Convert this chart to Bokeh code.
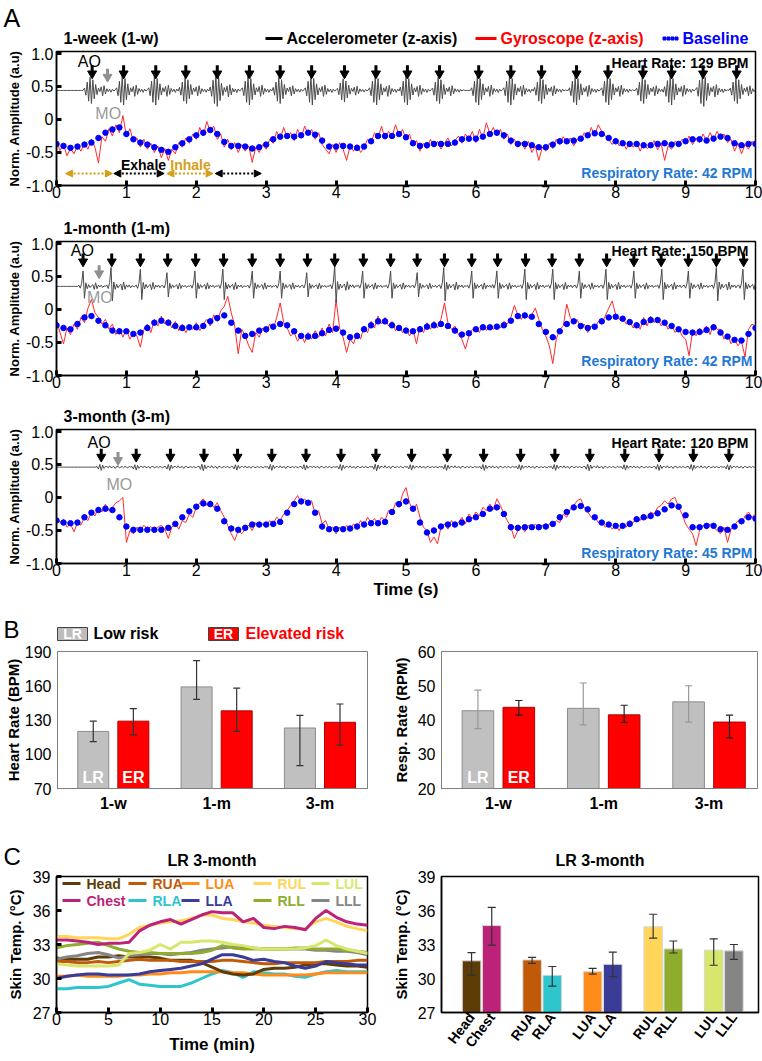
import numpy as np
from bokeh.plotting import figure
from bokeh.layouts import column, row
from bokeh.models import Label, FixedTicker, CustomJSTickFormatter, Arrow, NormalHead
from bokeh.embed import file_html
from bokeh.resources import INLINE

FONT = "Liberation Sans"

# ======================= Panel A data =======================
gyro_dt = 0.05   # s between gyroscope samples
base_dt = 0.1    # s between baseline points
acc_dt = 0.02    # s between accelerometer samples

gyro_1w = [
    -0.32, -0.47, -0.38, -0.55, -0.44, -0.52, -0.40, -0.48, -0.36, -0.45,
    -0.30, -0.42, -0.66, -0.26, -0.33, -0.14, -0.25, -0.08, -0.20, 0.06,
    -0.25, -0.14, -0.33, -0.28, -0.42, -0.30, -0.45, -0.36, -0.50, -0.40,
    -0.58, -0.44, -0.62, -0.45, -0.52, -0.35, -0.42, -0.28, -0.36, -0.22,
    -0.30, -0.12, -0.25, -0.03, -0.18, -0.10, -0.30, -0.22, -0.42, -0.30,
    -0.46, -0.35, -0.50, -0.38, -0.48, -0.40, -0.65, -0.42, -0.50, -0.38,
    -0.45, -0.30, -0.36, -0.18, -0.30, -0.12, -0.28, -0.20, -0.32, -0.15,
    -0.28, -0.10, -0.22, -0.15, -0.30, -0.20, -0.38, -0.45, -0.52, -0.38,
    -0.50, -0.35, -0.45, -0.62, -0.40, -0.48, -0.38, -0.50, -0.42, -0.30,
    -0.35, -0.20, -0.28, -0.10, -0.30, -0.18, -0.26, -0.08, -0.24, -0.15,
    -0.30, -0.22, -0.40, -0.32, -0.48, -0.36, -0.44, -0.30, -0.42, -0.33,
    -0.45, -0.36, -0.28, -0.40, -0.32, -0.25, -0.36, -0.22, -0.30, -0.18,
    -0.35, -0.15, -0.28, -0.05, -0.22, -0.12, -0.25, -0.15, -0.30, -0.22,
    -0.38, -0.30, -0.42, -0.35, -0.45, -0.33, -0.50, -0.40, -0.62, -0.42,
    -0.48, -0.36, -0.44, -0.30, -0.38, -0.26, -0.35, -0.28, -0.40, -0.30,
    -0.32, -0.20, -0.28, -0.12, -0.25, -0.08, -0.18, -0.25, -0.30, -0.38,
    -0.28, -0.40, -0.32, -0.45, -0.35, -0.42, -0.34, -0.48, -0.36, -0.44,
    -0.40, -0.32, -0.46, -0.36, -0.62, -0.40, -0.45, -0.33, -0.38, -0.30,
    -0.36, -0.25, -0.38, -0.28, -0.35, -0.22, -0.32, -0.20, -0.30, -0.18,
    -0.28, -0.22, -0.35, -0.30, -0.48, -0.36, -0.52, -0.38, -0.45, -0.33,
    -0.40]
base_1w = [
    -0.37, -0.40, -0.43, -0.41, -0.38, -0.35, -0.28, -0.20, -0.15, -0.12,
    -0.22, -0.30, -0.35, -0.38, -0.42, -0.46, -0.49, -0.42, -0.36, -0.30,
    -0.24, -0.20, -0.16, -0.22, -0.34, -0.40, -0.40, -0.41, -0.44, -0.42,
    -0.38, -0.30, -0.26, -0.25, -0.26, -0.24, -0.20, -0.23, -0.32, -0.41,
    -0.41, -0.40, -0.41, -0.43, -0.41, -0.33, -0.25, -0.25, -0.25, -0.22,
    -0.27, -0.36, -0.40, -0.39, -0.37, -0.37, -0.37, -0.35, -0.30, -0.29,
    -0.29, -0.26, -0.22, -0.20, -0.24, -0.32, -0.37, -0.37, -0.39, -0.42,
    -0.42, -0.38, -0.33, -0.33, -0.32, -0.29, -0.24, -0.21, -0.22, -0.28,
    -0.33, -0.36, -0.37, -0.37, -0.39, -0.39, -0.37, -0.36, -0.38, -0.37,
    -0.33, -0.30, -0.30, -0.32, -0.29, -0.26, -0.28, -0.36, -0.39, -0.37,
    -0.37]
beats_1w = [0.51, 0.96, 1.42, 1.85, 2.30, 2.76, 3.20, 3.65, 4.12, 4.57, 5.02,
            5.48, 6.04, 6.50, 6.94, 7.44, 7.89, 8.39, 8.80, 9.25, 9.73]
beat_amp_1w = [0.9, 1.0, 1.0, 0.9, 1.1, 1.0, 0.9, 1.0, 0.8, 1.0, 1.0,
               0.9, 1.0, 1.0, 0.9, 1.0, 1.0, 0.9, 1.0, 1.1, 0.9]
beat_wave_1w = [0.04, -0.08, 0.14, -0.18, 0.22, -0.22, 0.18, -0.14, 0.10, -0.07, 0.04, -0.02,
                0.06, -0.09, 0.08, -0.06, 0.03, -0.02, 0.02, -0.03, 0.02, -0.01, 0.01]
wave_lead_1w = 0.10
acc_level_1w = 0.44
mo_1w = 0.73
hr_1w, rr_1w = 129, 42
breath_start_1w = [0.13, 0.82, 1.58, 2.27]
breath_end_1w = [0.80, 1.54, 2.24, 2.93]
breath_phase_1w = ["Inhale", "Exhale", "Inhale", "Exhale"]

gyro_1m = [
    -0.15, -0.35, -0.52, -0.28, -0.38, -0.22, -0.30, -0.12, -0.20, 0.02,
    0.15, -0.05, -0.12, -0.22, -0.15, -0.30, -0.22, -0.38, -0.28, -0.42,
    -0.30, -0.45, -0.35, -0.40, -0.57, -0.30, -0.22, -0.35, -0.15, -0.25,
    -0.10, -0.22, -0.15, -0.28, -0.18, -0.32, -0.22, -0.35, -0.25, -0.30,
    -0.20, -0.32, -0.22, -0.15, -0.25, -0.08, -0.18, -0.02, 0.05, 0.20,
    -0.05, -0.25, -0.67, -0.30, -0.40, -0.55, -0.65, -0.35, -0.42, -0.28,
    -0.35, -0.22, -0.30, -0.12, 0.10, -0.20, -0.28, -0.40, -0.35, -0.48,
    -0.38, -0.50, -0.35, -0.45, -0.32, -0.42, -0.28, -0.40, -0.22, -0.35,
    0.15, -0.28, -0.42, -0.65, -0.45, -0.52, -0.35, -0.45, -0.25, -0.35,
    -0.18, -0.28, -0.10, -0.22, -0.12, -0.25, -0.18, -0.32, -0.25, -0.35,
    -0.28, -0.40, -0.30, -0.52, -0.25, -0.35, -0.20, -0.30, -0.18, -0.28,
    -0.15, 0.10, -0.20, -0.30, -0.25, -0.38, -0.45, -0.60, -0.40, -0.30,
    -0.28, -0.35, -0.22, -0.32, -0.25, -0.30, -0.22, -0.28, -0.18, -0.22,
    -0.12, 0.06, -0.08, -0.15, -0.05, -0.12, -0.08, 0.02, -0.15, -0.30,
    -0.40, -0.55, -0.82, -0.45, -0.30, -0.25, 0.08, -0.12, -0.20, -0.15,
    -0.30, -0.22, -0.35, -0.25, -0.30, -0.18, -0.22, -0.10, 0.02, 0.13,
    -0.08, -0.15, -0.12, -0.22, -0.18, -0.28, -0.20, -0.30, -0.12, -0.25,
    -0.10, -0.20, -0.12, -0.25, -0.18, -0.30, -0.22, -0.35, -0.28, -0.40,
    -0.45, -0.70, -0.32, -0.40, -0.28, -0.35, -0.25, -0.38, -0.22, -0.30,
    -0.30, -0.45, -0.38, -0.52, -0.45, -0.55, -0.48, -0.72, -0.30, -0.22,
    -0.25]
base_1m = [
    -0.24, -0.28, -0.30, -0.22, -0.12, -0.10, -0.17, -0.24, -0.32, -0.33,
    -0.33, -0.37, -0.35, -0.28, -0.20, -0.17, -0.20, -0.25, -0.28, -0.27,
    -0.27, -0.25, -0.18, -0.13, -0.09, -0.20, -0.32, -0.40, -0.37, -0.32,
    -0.30, -0.26, -0.22, -0.24, -0.33, -0.40, -0.41, -0.40, -0.36, -0.31,
    -0.29, -0.35, -0.42, -0.40, -0.30, -0.24, -0.18, -0.18, -0.24, -0.28,
    -0.32, -0.33, -0.30, -0.26, -0.24, -0.22, -0.25, -0.32, -0.38, -0.36,
    -0.30, -0.27, -0.27, -0.26, -0.24, -0.17, -0.10, -0.09, -0.11, -0.22,
    -0.34, -0.42, -0.33, -0.22, -0.18, -0.25, -0.28, -0.26, -0.18, -0.12,
    -0.11, -0.14, -0.19, -0.24, -0.19, -0.16, -0.16, -0.20, -0.25, -0.30,
    -0.34, -0.35, -0.34, -0.31, -0.27, -0.35, -0.41, -0.46, -0.47, -0.37,
    -0.28]
beats_1m = [0.38, 0.79, 1.20, 1.59, 1.99, 2.39, 2.80, 3.20, 3.59, 3.98, 4.39, 4.78, 5.16,
            5.55, 5.94, 6.31, 6.71, 7.09, 7.48, 7.87, 8.26, 8.65, 9.04, 9.44, 9.83]
beat_amp_1m = [0.9, 1.1, 1.0, 0.8, 0.9, 1.0, 0.9, 0.9, 0.8, 1.2, 0.9, 0.9, 0.8,
               1.1, 0.9, 0.9, 1.0, 1.0, 0.9, 1.0, 0.9, 1.0, 0.9, 1.1, 1.0]
beat_wave_1m = [0.02, -0.03, 0.05, 0.26, -0.20, 0.06, -0.04, 0.03, -0.02, 0.01,
                0.03, -0.05, 0.06, -0.04, 0.02, -0.01, 0.02, -0.02, 0.01, 0.00]
wave_lead_1m = 0.06
acc_level_1m = 0.35
mo_1m = 0.61
hr_1m, rr_1m = 150, 42

gyro_3m = [
    -0.30, -0.38, -0.33, -0.45, -0.40, -0.52, -0.38, -0.42, -0.30, -0.35,
    -0.22, -0.28, -0.15, -0.22, -0.10, -0.20, -0.15, -0.08, -0.05, 0.00,
    -0.68, -0.50, -0.55, -0.45, -0.50, -0.42, -0.48, -0.44, -0.50, -0.45,
    -0.42, -0.48, -0.62, -0.45, -0.40, -0.48, -0.35, -0.38, -0.25, -0.30,
    -0.15, -0.08, -0.02, -0.12, -0.05, -0.15, -0.08, -0.20, -0.30, -0.42,
    -0.55, -0.65, -0.50, -0.55, -0.48, -0.42, -0.50, -0.38, -0.45, -0.40,
    -0.42, -0.35, -0.40, -0.30, -0.35, -0.25, -0.20, -0.12, -0.05, 0.03,
    -0.08, -0.02, -0.10, -0.05, -0.25, -0.20, -0.40, -0.35, -0.48, -0.45,
    -0.55, -0.45, -0.52, -0.42, -0.48, -0.40, -0.45, -0.35, -0.42, -0.30,
    -0.38, -0.32, -0.40, -0.30, -0.35, -0.20, -0.25, -0.08, -0.15, 0.05,
    0.15, -0.08, -0.20, -0.10, -0.30, -0.45, -0.50, -0.68, -0.60, -0.70,
    -0.45, -0.40, -0.48, -0.35, -0.42, -0.38, -0.30, -0.40, -0.25, -0.32,
    -0.22, -0.28, -0.15, -0.20, -0.10, -0.18, -0.02, -0.12, -0.25, -0.35,
    -0.45, -0.62, -0.50, -0.45, -0.52, -0.42, -0.48, -0.40, -0.45, -0.42,
    -0.48, -0.40, -0.42, -0.35, -0.38, -0.25, -0.30, -0.18, -0.12, -0.05,
    -0.02, -0.15, -0.22, -0.30, -0.28, -0.38, -0.35, -0.45, -0.40, -0.48,
    -0.42, -0.50, -0.40, -0.45, -0.35, -0.38, -0.30, -0.35, -0.25, -0.32,
    -0.22, -0.25, -0.15, -0.12, -0.05, -0.10, -0.02, 0.00, -0.15, -0.25,
    -0.40, -0.48, -0.55, -0.73, -0.50, -0.42, -0.48, -0.40, -0.45, -0.50,
    -0.55, -0.45, -0.68, -0.48, -0.42, -0.35, -0.40, -0.28, -0.22, -0.30,
    -0.25]
base_3m = [
    -0.35, -0.38, -0.39, -0.38, -0.30, -0.23, -0.19, -0.17, -0.19, -0.30,
    -0.44, -0.49, -0.49, -0.49, -0.49, -0.49, -0.46, -0.40, -0.30, -0.21,
    -0.14, -0.09, -0.10, -0.17, -0.36, -0.47, -0.49, -0.46, -0.41, -0.41,
    -0.41, -0.40, -0.37, -0.23, -0.10, -0.06, -0.08, -0.23, -0.44, -0.48,
    -0.48, -0.48, -0.47, -0.44, -0.41, -0.39, -0.39, -0.37, -0.22, -0.10,
    -0.06, -0.17, -0.38, -0.53, -0.50, -0.44, -0.41, -0.41, -0.38, -0.33,
    -0.30, -0.25, -0.17, -0.15, -0.25, -0.45, -0.46, -0.45, -0.45, -0.45,
    -0.44, -0.40, -0.30, -0.22, -0.15, -0.13, -0.18, -0.30, -0.38, -0.41,
    -0.43, -0.43, -0.40, -0.33, -0.30, -0.28, -0.24, -0.18, -0.12, -0.14,
    -0.27, -0.45, -0.45, -0.43, -0.43, -0.48, -0.49, -0.44, -0.36, -0.30,
    -0.32]
beats_3m = [0.64, 1.14, 1.63, 2.11, 2.59, 3.08, 3.57, 4.07, 4.57, 5.08,
            5.59, 6.11, 6.64, 7.13, 7.63, 8.13, 8.62, 9.11, 9.62]
beat_amp_3m = [1.0, 0.9, 1.0, 1.1, 0.9, 1.0, 0.9, 1.0, 1.1, 0.9,
               1.0, 1.0, 0.9, 1.0, 1.1, 0.9, 1.0, 1.0, 0.9]
beat_wave_3m = [0.01, -0.03, 0.04, -0.05, 0.03, -0.02, 0.01, 0.01, -0.01, 0.02, -0.01, 0.00, 0.01,
                -0.02, 0.01, 0.01, -0.01, 0.00, 0.01, -0.01, 0.01, 0.00, -0.01, 0.01, 0.00]
wave_lead_3m = 0.06
acc_level_3m = 0.46
mo_3m = 0.88
hr_3m, rr_3m = 120, 45

# ======================= Panel B data =======================
groups = ["1-w", "1-m", "3-m"]
hr_lr = [120, 159, 123]
hr_lr_lo = [111, 148, 90]
hr_lr_hi = [129, 182, 134]
hr_er = [129, 138, 128]
hr_er_lo = [117, 120, 108]
hr_er_hi = [140, 158, 144]
rr_lr = [42.7, 43.4, 45.3]
rr_lr_lo = [37.5, 38.6, 39.4]
rr_lr_hi = [48.7, 50.8, 50.0]
rr_er = [43.7, 41.5, 39.4]
rr_er_lo = [41.4, 39.3, 34.8]
rr_er_hi = [45.7, 44.3, 41.4]

# ======================= Panel C data =======================
temp_t = list(range(31))  # minutes
temp_head = [31.8, 31.7, 31.7, 31.7, 31.9, 31.9, 32.0, 31.9, 31.9, 31.9, 31.8, 31.6, 31.6, 31.6, 31.4, 31.0,
             30.6, 30.4, 30.3, 30.4, 30.8, 30.9, 30.9, 31.0, 31.2, 31.3, 31.3, 31.2, 31.1, 31.1, 31.0]
temp_chest = [33.4, 33.4, 33.3, 33.2, 33.0, 33.1, 33.1, 33.2, 34.2, 34.7, 35.0, 35.2, 34.8, 35.2, 35.6, 35.9,
              35.8, 35.8, 35.0, 35.3, 34.5, 34.4, 34.6, 34.5, 34.3, 35.3, 36.0, 35.4, 35.0, 34.8, 34.7]
temp_rua = [31.5, 31.5, 31.4, 31.4, 31.5, 31.4, 31.5, 31.6, 31.7, 31.6, 31.6, 31.6, 31.5, 31.5, 31.5, 31.5,
            31.6, 31.6, 31.5, 31.4, 31.3, 31.3, 31.4, 31.4, 31.4, 31.4, 31.5, 31.5, 31.5, 31.6, 31.6]
temp_rla = [29.1, 29.1, 29.2, 29.2, 29.2, 29.3, 29.6, 29.9, 29.5, 29.4, 29.3, 29.3, 29.3, 29.6, 30.0, 30.4,
            30.7, 30.5, 30.1, 30.6, 30.5, 30.4, 30.4, 30.2, 30.1, 30.4, 30.6, 30.7, 30.6, 30.6, 30.6]
temp_lua = [30.2, 30.2, 30.3, 30.2, 30.2, 30.2, 30.2, 30.3, 30.3, 30.4, 30.4, 30.5, 30.5, 30.6, 30.6, 30.6,
            30.6, 30.5, 30.5, 30.4, 30.3, 30.3, 30.3, 30.3, 30.3, 30.4, 30.5, 30.5, 30.5, 30.5, 30.5]
temp_lla = [30.0, 30.2, 30.3, 30.4, 30.4, 30.3, 30.3, 30.3, 30.4, 30.6, 30.7, 30.8, 30.9, 31.1, 31.3, 31.7,
            32.1, 32.1, 31.9, 31.6, 31.7, 31.5, 31.4, 31.1, 30.9, 31.1, 31.5, 31.4, 31.3, 31.2, 31.2]
temp_rul = [33.7, 33.7, 33.6, 33.6, 33.6, 33.5, 33.5, 33.9, 34.5, 34.7, 34.9, 35.0, 35.1, 35.3, 35.6, 35.6,
            35.3, 35.2, 35.0, 34.9, 34.7, 34.6, 34.5, 34.4, 34.4, 35.0, 35.3, 35.0, 34.6, 34.4, 34.2]
temp_rll = [32.7, 32.9, 33.0, 33.1, 33.2, 32.9, 32.6, 32.4, 32.3, 32.3, 32.2, 32.2, 32.2, 32.2, 32.3, 32.5,
            32.9, 32.7, 32.6, 32.6, 32.6, 32.6, 32.6, 32.7, 32.7, 32.6, 32.6, 32.6, 32.5, 32.4, 32.3]
temp_lul = [31.3, 31.2, 31.1, 31.1, 31.1, 31.1, 31.2, 32.2, 32.3, 32.5, 33.0, 32.6, 33.2, 33.2, 33.3, 33.3,
            33.2, 33.0, 32.9, 32.7, 32.6, 32.6, 32.6, 32.6, 32.7, 32.9, 33.4, 32.9, 32.6, 32.4, 32.2]
temp_lll = [31.7, 31.9, 32.0, 32.2, 32.3, 32.1, 31.8, 32.0, 32.1, 32.2, 32.2, 32.1, 32.2, 32.3, 32.5, 32.6,
            32.7, 32.8, 32.8, 32.7, 32.6, 32.6, 32.6, 32.6, 32.6, 32.5, 32.5, 32.4, 32.4, 32.3, 32.1]

regions = ["Head", "Chest", "RUA", "RLA", "LUA", "LLA", "RUL", "RLL", "LUL", "LLL"]
region_colors = ["#5e3c06", "#bb2278", "#c05a08", "#2ec6cc", "#ff8c1a",
                 "#3b3b98", "#ffd65a", "#8fac2e", "#d9e66e", "#858585"]
temp_mean = [31.56, 34.67, 31.64, 30.28, 30.61, 31.25, 34.56, 32.61, 32.50, 32.44]
temp_lo = [30.28, 32.94, 31.33, 29.33, 30.39, 30.17, 33.56, 32.25, 31.17, 31.69]
temp_hi = [32.28, 36.28, 31.86, 31.06, 30.89, 32.33, 35.67, 33.31, 33.50, 33.00]

# ======================= helpers =======================
GOLD = "#d4a017"
RR_BLUE = "#1f78d1"
PAGE_W = 762


class Geo:
    """maps page pixel positions to data coordinates of one figure"""
    def __init__(self, fl, fr, ft, fb, x0, x1, y0, y1):
        self.fl, self.fr, self.ft, self.fb = fl, fr, ft, fb
        self.x0, self.x1, self.y0, self.y1 = x0, x1, y0, y1

    def X(self, px):
        return self.x0 + (px - self.fl) * (self.x1 - self.x0) / (self.fr - self.fl)

    def Y(self, py):
        return self.y1 - (py - self.ft) * (self.y1 - self.y0) / (self.fb - self.ft)


def make_fig(fx, fy, W, H, bl, br, bt, bb, xr, yr, frame_color="black", frame_w=1.5):
    p = figure(width=W, height=H, x_range=xr, y_range=yr, output_backend="svg",
               toolbar_location=None, min_border_left=bl, min_border_right=br,
               min_border_top=bt, min_border_bottom=bb, frame_align=False)
    p.grid.visible = False
    p.outline_line_color = frame_color
    p.outline_line_width = frame_w
    p.background_fill_color = "white"
    p.border_fill_color = "white"
    for ax in (p.xaxis, p.yaxis):
        ax.axis_line_color = frame_color
        ax.axis_line_width = frame_w
        ax.minor_tick_line_color = None
        ax.major_tick_in = 5
        ax.major_tick_out = 0
        ax.major_tick_line_width = 3
        ax.major_tick_line_color = "black"
        ax.major_label_text_font = FONT
        ax.major_label_text_font_size = "16px"
        ax.major_label_text_color = "black"
        ax.axis_label_text_font = FONT
        ax.axis_label_text_font_style = "bold"
        ax.axis_label_text_color = "black"
    g = Geo(fx + bl, fx + W - br, fy + bt, fy + H - bb, xr[0], xr[1], yr[0], yr[1])
    return p, g


def header(y0, y1):
    """text strip whose data coordinates are page pixels"""
    p = figure(width=PAGE_W, height=y1 - y0, x_range=(0, PAGE_W), y_range=(y1, y0),
               output_backend="svg", toolbar_location=None, min_border=0,
               min_border_left=0, min_border_right=0, min_border_top=0, min_border_bottom=0,
               x_axis_location=None, y_axis_location=None, frame_align=False)
    p.grid.visible = False
    p.outline_line_color = None
    p.background_fill_color = "white"
    p.border_fill_color = "white"
    return p


def txt(p, x, y, text, size=16, color="black", bold=False, align="left", font=FONT):
    p.add_layout(Label(x=x, y=y, text=text, text_font=font, text_font_size=f"{size}px",
                       text_font_style="bold" if bold else "normal", text_color=color,
                       text_align=align, text_baseline="middle"))


def lab(p, g, px, py, text, **kw):
    txt(p, g.X(px), g.Y(py), text, **kw)


def acc_trace(beats, amps, wave, lead, level):
    n = int(round(10 / acc_dt)) + 1
    t = np.arange(n) * acc_dt
    y = np.full(n, float(level))
    for b, a in zip(beats, amps):
        i0 = int(round((b - lead) / acc_dt))
        for k, v in enumerate(wave):
            if 0 <= i0 + k < n:
                y[i0 + k] += a * v
    return t, y


def beat_arrows(p, xs, top, shaft, tri, color):
    n = len(xs)
    p.segment(x0=xs, y0=[top] * n, x1=xs, y1=[shaft] * n, line_color=color, line_width=3)
    p.scatter(x=xs, y=[tri] * n, marker="inverted_triangle", size=9,
              fill_color=color, line_color=color)


# ======================= Panel A =======================
hdr_a1 = header(0, 47)
txt(hdr_a1, 3, 17, "A", size=25)
txt(hdr_a1, 63, 38, "1-week (1-w)", size=16, bold=True)
hdr_a1.segment(x0=[265], y0=[38], x1=[282], y1=[38], line_color="black", line_width=3)
txt(hdr_a1, 286, 38, "Accelerometer (z-axis)", size=16, bold=True)
hdr_a1.segment(x0=[475], y0=[38], x1=[496], y1=[38], line_color="#ff0000", line_width=3)
txt(hdr_a1, 500, 38, "Gyroscope (z-axis)", size=16, bold=True, color="#ff0000")
hdr_a1.scatter(x=[664, 668, 672, 676], y=[38] * 4, marker="square", size=3,
               fill_color="#0000ff", line_color="#0000ff")
txt(hdr_a1, 682, 38, "Baseline", size=16, bold=True, color="#0000ff")

hdr_a2 = header(205, 237)
txt(hdr_a2, 63, 227.5, "1-month (1-m)", size=16, bold=True)
hdr_a3 = header(395, 425)
txt(hdr_a3, 63, 415.5, "3-month (3-m)", size=16, bold=True)

panels_a = [
    dict(fy=47, H=158, bb=20,
         gyro=gyro_1w, base=base_1w, beats=beats_1w, amps=beat_amp_1w, wave=beat_wave_1w,
         lead=wave_lead_1w, level=acc_level_1w, mo=mo_1w, hr=hr_1w, rr=rr_1w,
         arrow=(0.82, 0.73, 0.695), mo_arrow=(0.77, 0.68, 0.645),
         ao=(0.47, 0.88), mo_lab=(0.74, 0.09), hr_y=62, rr_y=172),
    dict(fy=237, H=158, bb=20,
         gyro=gyro_1m, base=base_1m, beats=beats_1m, amps=beat_amp_1m, wave=beat_wave_1m,
         lead=wave_lead_1m, level=acc_level_1m, mo=mo_1m, hr=hr_1m, rr=rr_1m,
         arrow=(0.85, 0.76, 0.725), mo_arrow=(0.67, 0.58, 0.545),
         ao=(0.37, 0.90), mo_lab=(0.62, 0.18), hr_y=250, rr_y=360),
    dict(fy=425, H=178, bb=40,
         gyro=gyro_3m, base=base_3m, beats=beats_3m, amps=beat_amp_3m, wave=beat_wave_3m,
         lead=wave_lead_3m, level=acc_level_3m, mo=mo_3m, hr=hr_3m, rr=rr_3m,
         arrow=(0.74, 0.65, 0.615), mo_arrow=(0.69, 0.60, 0.565),
         ao=(0.61, 0.84), mo_lab=(0.90, 0.20), hr_y=442, rr_y=552),
]

figs_a = []
for i, c in enumerate(panels_a):
    p, g = make_fig(0, c["fy"], PAGE_W, c["H"], 56, 7, 4, c["bb"], (0, 10), (-1.0, 1.03))
    p.xaxis.ticker = FixedTicker(ticks=list(range(11)))
    p.yaxis.ticker = FixedTicker(ticks=[-1.0, -0.5, 0.0, 0.5, 1.0])
    p.yaxis.formatter = CustomJSTickFormatter(code="return tick == 0 ? '0' : tick.toFixed(1);")
    p.xaxis.major_label_standoff = 0
    p.yaxis.major_label_standoff = 3
    p.yaxis.axis_label = "Norm. Amplitude (a.u)"
    p.yaxis.axis_label_text_font_size = "13px"
    p.yaxis.axis_label_standoff = 1
    if i == 2:
        p.xaxis.axis_label = "Time (s)"
        p.xaxis.axis_label_text_font_size = "17px"
        p.xaxis.axis_label_standoff = 1

    t_g = np.arange(len(c["gyro"])) * gyro_dt
    t_b = np.arange(len(c["base"])) * base_dt
    p.line(x=t_g, y=c["gyro"], line_color="#ff2a2a", line_width=1)
    p.scatter(x=t_b, y=c["base"], size=5.5, fill_color="#0000ff", line_color="#0000ff")
    t_a, y_a = acc_trace(c["beats"], c["amps"], c["wave"], c["lead"], c["level"])
    p.line(x=t_a, y=y_a, line_color="#4a4a4a", line_width=1)

    beat_arrows(p, c["beats"], *c["arrow"], "black")
    beat_arrows(p, [c["mo"]], *c["mo_arrow"], "#909090")
    txt(p, c["ao"][0], c["ao"][1], "AO", size=16, align="center")
    txt(p, c["mo_lab"][0], c["mo_lab"][1], "MO", size=16, align="center", color="#999999")
    lab(p, g, 748, c["hr_y"], f"Heart Rate: {c['hr']} BPM", size=14, bold=True, align="right")
    lab(p, g, 752, c["rr_y"], f"Respiratory Rate: {c['rr']} RPM", size=14, bold=True,
        align="right", color=RR_BLUE)

    if i == 0:
        yb = g.Y(173)
        for s, e, ph in zip(breath_start_1w, breath_end_1w, breath_phase_1w):
            col = GOLD if ph == "Inhale" else "black"
            p.add_layout(Arrow(x_start=s, y_start=yb, x_end=e, y_end=yb, line_color=col,
                               line_width=2, line_dash="2 2",
                               start=NormalHead(size=7, fill_color=col, line_color=col),
                               end=NormalHead(size=7, fill_color=col, line_color=col)))
        lab(p, g, 143, 164, "Exhale", size=14, bold=True, align="center")
        lab(p, g, 190, 164, "Inhale", size=14, bold=True, align="center", color=GOLD)
    figs_a.append(p)

# ======================= Panel B =======================
hdr_b = header(603, 645)
txt(hdr_b, 3, 629, "B", size=24)
hdr_b.quad(left=[57], right=[87], top=[627], bottom=[640], fill_color="#bdbdbd",
           line_color="#444444", line_width=1)
txt(hdr_b, 72, 633.5, "LR", size=14, bold=True, color="white", align="center")
txt(hdr_b, 93, 633, "Low risk", size=16, bold=True)
hdr_b.quad(left=[208], right=[238], top=[627], bottom=[640], fill_color="#ff0000",
           line_color="#444444", line_width=1)
txt(hdr_b, 223, 633.5, "ER", size=14, bold=True, color="white", align="center")
txt(hdr_b, 245, 633, "Elevated risk", size=16, bold=True, color="#ff0000")


def bar_panel(fx, W, bl, br, yr, yticks, lr, lr_lo, lr_hi, er, er_lo, er_hi, ylabel, ylab_standoff,
              lr_err_col, er_err_col):
    p, g = make_fig(fx, 645, W, 170, bl, br, 6, 27, (0.46, 3.46), yr,
                    frame_color="#808080", frame_w=1)
    p.yaxis.ticker = FixedTicker(ticks=yticks)
    p.xaxis.ticker = FixedTicker(ticks=[1, 2, 3])
    p.xaxis.major_label_overrides = {k + 1: gname for k, gname in enumerate(groups)}
    p.xaxis.major_label_text_font_style = "bold"
    p.xaxis.major_label_standoff = 6
    p.yaxis.major_label_standoff = 6
    p.yaxis.axis_label = ylabel
    p.yaxis.axis_label_text_font_size = "15px"
    p.yaxis.axis_label_standoff = ylab_standoff
    for ax in (p.xaxis, p.yaxis):
        ax.major_tick_in = 0
    xs = np.arange(1, len(groups) + 1)
    off, w, cap = 0.194, 0.30, 0.034
    for xx, vals, lo, hi, fc, lc, ec in [(xs - off, lr, lr_lo, lr_hi, "#c0c0c0", "#8c8c8c", lr_err_col),
                                         (xs + off, er, er_lo, er_hi, "#ff0000", "#b00000", er_err_col)]:
        p.vbar(x=xx, top=vals, bottom=yr[0], width=w, fill_color=fc, line_color=lc, line_width=1)
        p.segment(x0=xx, y0=lo, x1=xx, y1=hi, line_color=ec, line_width=1.2)
        p.segment(x0=xx - cap, y0=lo, x1=xx + cap, y1=lo, line_color=ec, line_width=1.2)
        p.segment(x0=xx - cap, y0=hi, x1=xx + cap, y1=hi, line_color=ec, line_width=1.2)
    txt(p, 1 - off, g.Y(777), "LR", size=16, bold=True, color="white", align="center")
    txt(p, 1 + off, g.Y(777), "ER", size=16, bold=True, color="white", align="center")
    return p


fig_b1 = bar_panel(0, 380, 57, 13, (70, 190), [70, 100, 130, 160, 190], hr_lr, hr_lr_lo, hr_lr_hi,
                   hr_er, hr_er_lo, hr_er_hi, "Heart Rate (BPM)", 0, "#333333", "#333333")
fig_b2 = bar_panel(380, 382, 61, 5, (20, 60), [20, 30, 40, 50, 60], rr_lr, rr_lr_lo, rr_lr_hi,
                   rr_er, rr_er_lo, rr_er_hi, "Resp. Rate (RPM)", 5, "#999999", "#222222")

# ======================= Panel C =======================
hdr_c = header(815, 870)
txt(hdr_c, 3, 856, "C", size=24)
txt(hdr_c, 211.5, 860, "LR 3-month", size=16, bold=True, align="center")
txt(hdr_c, 599.5, 860, "LR 3-month", size=16, bold=True, align="center")

fig_c1, gc1 = make_fig(0, 870, 380, 190, 56, 13, 6, 48, (0, 30), (27, 39))
fig_c1.xaxis.ticker = FixedTicker(ticks=[0, 5, 10, 15, 20, 25, 30])
fig_c1.yaxis.ticker = FixedTicker(ticks=[27, 30, 33, 36, 39])
fig_c1.xaxis.major_label_standoff = 0
fig_c1.yaxis.major_label_standoff = 6
fig_c1.yaxis.axis_label = "Skin Temp. (°C)"
fig_c1.yaxis.axis_label_text_font_size = "15px"
fig_c1.yaxis.axis_label_standoff = 6
fig_c1.xaxis.axis_label = "Time (min)"
fig_c1.xaxis.axis_label_text_font_size = "17px"
fig_c1.xaxis.axis_label_standoff = 7
series_c = [temp_head, temp_chest, temp_rua, temp_rla, temp_lua,
            temp_lla, temp_rul, temp_rll, temp_lul, temp_lll]
draw_order = [3, 4, 0, 2, 5, 9, 7, 8, 6, 1]
for k in draw_order:
    fig_c1.line(x=temp_t, y=series_c[k], line_color=region_colors[k], line_width=3)
# legend: columns of (upper, lower) pairs
leg_cols_x = [62, 128, 181, 253, 311]
for k, name in enumerate(regions):
    lx = leg_cols_x[k // 2]
    ly = 883 if k % 2 == 0 else 900
    fig_c1.segment(x0=[gc1.X(lx)], y0=[gc1.Y(ly)], x1=[gc1.X(lx + 18)], y1=[gc1.Y(ly)],
                   line_color=region_colors[k], line_width=3)
    lab(fig_c1, gc1, lx + 24, ly, name, size=14, bold=True, color=region_colors[k])

fig_c2, gc2 = make_fig(380, 870, 382, 190, 61, 4, 6, 48, (-1.49, 14.22), (27, 39))
pos_c = [3 * (k // 2) + (k % 2) for k in range(len(regions))]
fig_c2.yaxis.ticker = FixedTicker(ticks=[27, 30, 33, 36, 39])
fig_c2.xaxis.ticker = FixedTicker(ticks=pos_c)
fig_c2.xaxis.major_label_overrides = {pp: nm for pp, nm in zip(pos_c, regions)}
fig_c2.xaxis.major_label_orientation = 0.92
fig_c2.xaxis.major_label_text_font_style = "bold"
fig_c2.xaxis.major_label_text_font_size = "14px"
fig_c2.xaxis.major_label_standoff = 2
fig_c2.yaxis.major_label_standoff = 6
fig_c2.yaxis.axis_label = "Skin Temp. (°C)"
fig_c2.yaxis.axis_label_text_font_size = "15px"
fig_c2.yaxis.axis_label_standoff = 5
for ax in (fig_c2.xaxis, fig_c2.yaxis):
    ax.major_tick_in = 0
pos_arr = np.array(pos_c, dtype=float)
fig_c2.vbar(x=pos_arr, top=temp_mean, bottom=27, width=0.92, fill_color=region_colors,
            line_color="#d8d8d8", line_width=1)
fig_c2.segment(x0=pos_arr, y0=temp_lo, x1=pos_arr, y1=temp_hi, line_color="#333333", line_width=1.2)
fig_c2.segment(x0=pos_arr - 0.2, y0=temp_lo, x1=pos_arr + 0.2, y1=temp_lo, line_color="#333333",
               line_width=1.2)
fig_c2.segment(x0=pos_arr - 0.2, y0=temp_hi, x1=pos_arr + 0.2, y1=temp_hi, line_color="#333333",
               line_width=1.2)

layout = column(hdr_a1, figs_a[0], hdr_a2, figs_a[1], hdr_a3, figs_a[2],
                hdr_b, row(fig_b1, fig_b2), hdr_c, row(fig_c1, fig_c2))
open("out.html", "w").write(file_html(layout, INLINE, "Figure"))
